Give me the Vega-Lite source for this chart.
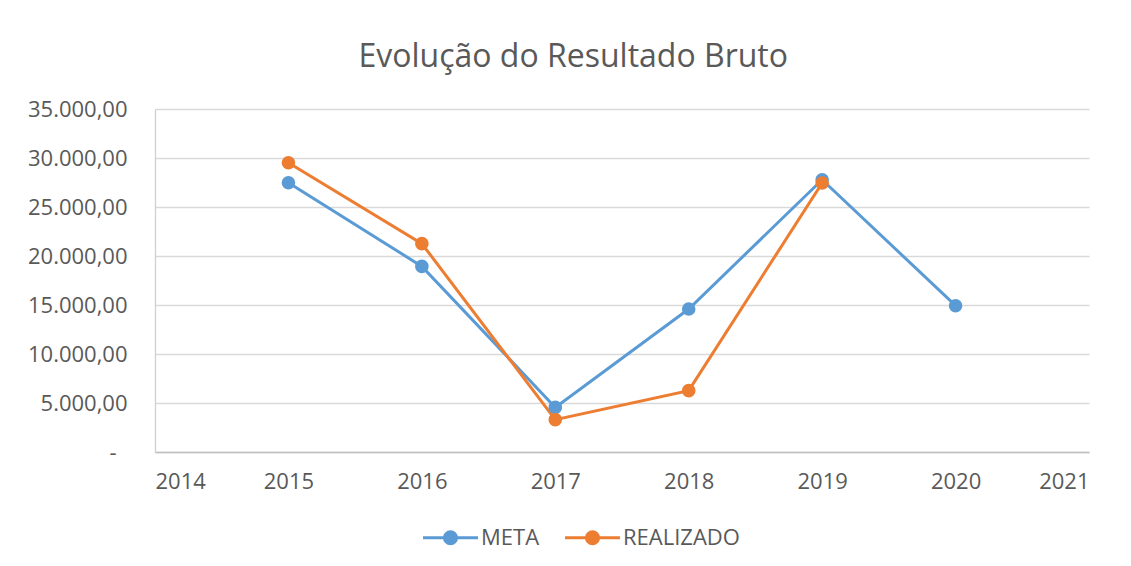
{
  "$schema": "https://vega.github.io/schema/vega-lite/v6.json",
  "width": 934,
  "height": 343,
  "autosize": {"type": "none"},
  "padding": {"left": 155, "top": 109, "right": 42, "bottom": 114},
  "background": "white",
  "title": {
    "text": "Evolução do Resultado Bruto",
    "font": "Open Sans",
    "fontSize": 32,
    "fontWeight": "normal",
    "color": "#595959",
    "anchor": "middle",
    "frame": "bounds",
    "dx": 15,
    "offset": 24
  },
  "data": {
    "values": [
      {"ano": 2015, "serie": "META", "valor": 27480},
      {"ano": 2016, "serie": "META", "valor": 18940},
      {"ano": 2017, "serie": "META", "valor": 4550},
      {"ano": 2018, "serie": "META", "valor": 14590},
      {"ano": 2019, "serie": "META", "valor": 27780},
      {"ano": 2020, "serie": "META", "valor": 14930},
      {"ano": 2015, "serie": "REALIZADO", "valor": 29520},
      {"ano": 2016, "serie": "REALIZADO", "valor": 21260},
      {"ano": 2017, "serie": "REALIZADO", "valor": 3300},
      {"ano": 2018, "serie": "REALIZADO", "valor": 6260},
      {"ano": 2019, "serie": "REALIZADO", "valor": 27450}
    ]
  },
  "mark": {
    "type": "line",
    "strokeWidth": 3,
    "point": {"filled": true, "size": 185, "opacity": 1}
  },
  "encoding": {
    "x": {
      "field": "ano",
      "type": "quantitative",
      "scale": {"domain": [2014, 2021], "nice": false, "zero": false},
      "axis": {
        "title": null,
        "values": [2014, 2015, 2016, 2017, 2018, 2019, 2020, 2021],
        "format": "d",
        "grid": false,
        "ticks": false,
        "domain": true,
        "domainColor": "#BFBFBF",
        "domainWidth": 1.3,
        "labelFont": "Open Sans",
        "labelFontSize": 22,
        "labelColor": "#595959",
        "labelPadding": 19
      }
    },
    "y": {
      "field": "valor",
      "type": "quantitative",
      "scale": {"domain": [0, 35000], "nice": false},
      "axis": {
        "title": null,
        "values": [0, 5000, 10000, 15000, 20000, 25000, 30000, 35000],
        "labelExpr": "datum.value == 0 ? '-' : replace(replace(replace(format(datum.value, ',.2f'), ',', '#'), '.', ','), '#', '.')",
        "grid": true,
        "gridColor": "#D9D9D9",
        "gridWidth": 1.3,
        "ticks": false,
        "domain": true,
        "domainColor": "#D0D0D0",
        "domainWidth": 1.3,
        "labelFont": "Open Sans",
        "labelFontSize": 22,
        "labelColor": "#595959",
        "labelPadding": {"condition": {"test": "datum.value == 0", "value": 39}, "value": 28}
      }
    },
    "color": {
      "field": "serie",
      "type": "nominal",
      "scale": {"domain": ["META", "REALIZADO"], "range": ["#5B9BD5", "#ED7D31"]},
      "legend": {
        "title": null,
        "orient": "none",
        "legendX": 283,
        "legendY": 416,
        "direction": "horizontal",
        "padding": 0,
        "symbolType": "M -2.5 0 L -0.55 0 M 0.55 0 L 2.5 0 M 0.55 0 A 0.55 0.55 0 1 1 -0.55 0 A 0.55 0.55 0 1 1 0.55 0",
        "symbolSize": 484,
        "symbolStrokeWidth": 3,
        "labelFont": "Open Sans",
        "labelFontSize": 22,
        "labelColor": "#595959",
        "labelOffset": 18,
        "columnPadding": 19,
        "encode": {
          "symbols": {"update": {"fill": {"scale": "color", "field": "value"}, "fillOpacity": {"value": 1}}}
        }
      }
    }
  },
  "config": {
    "view": {"stroke": null}
  }
}
